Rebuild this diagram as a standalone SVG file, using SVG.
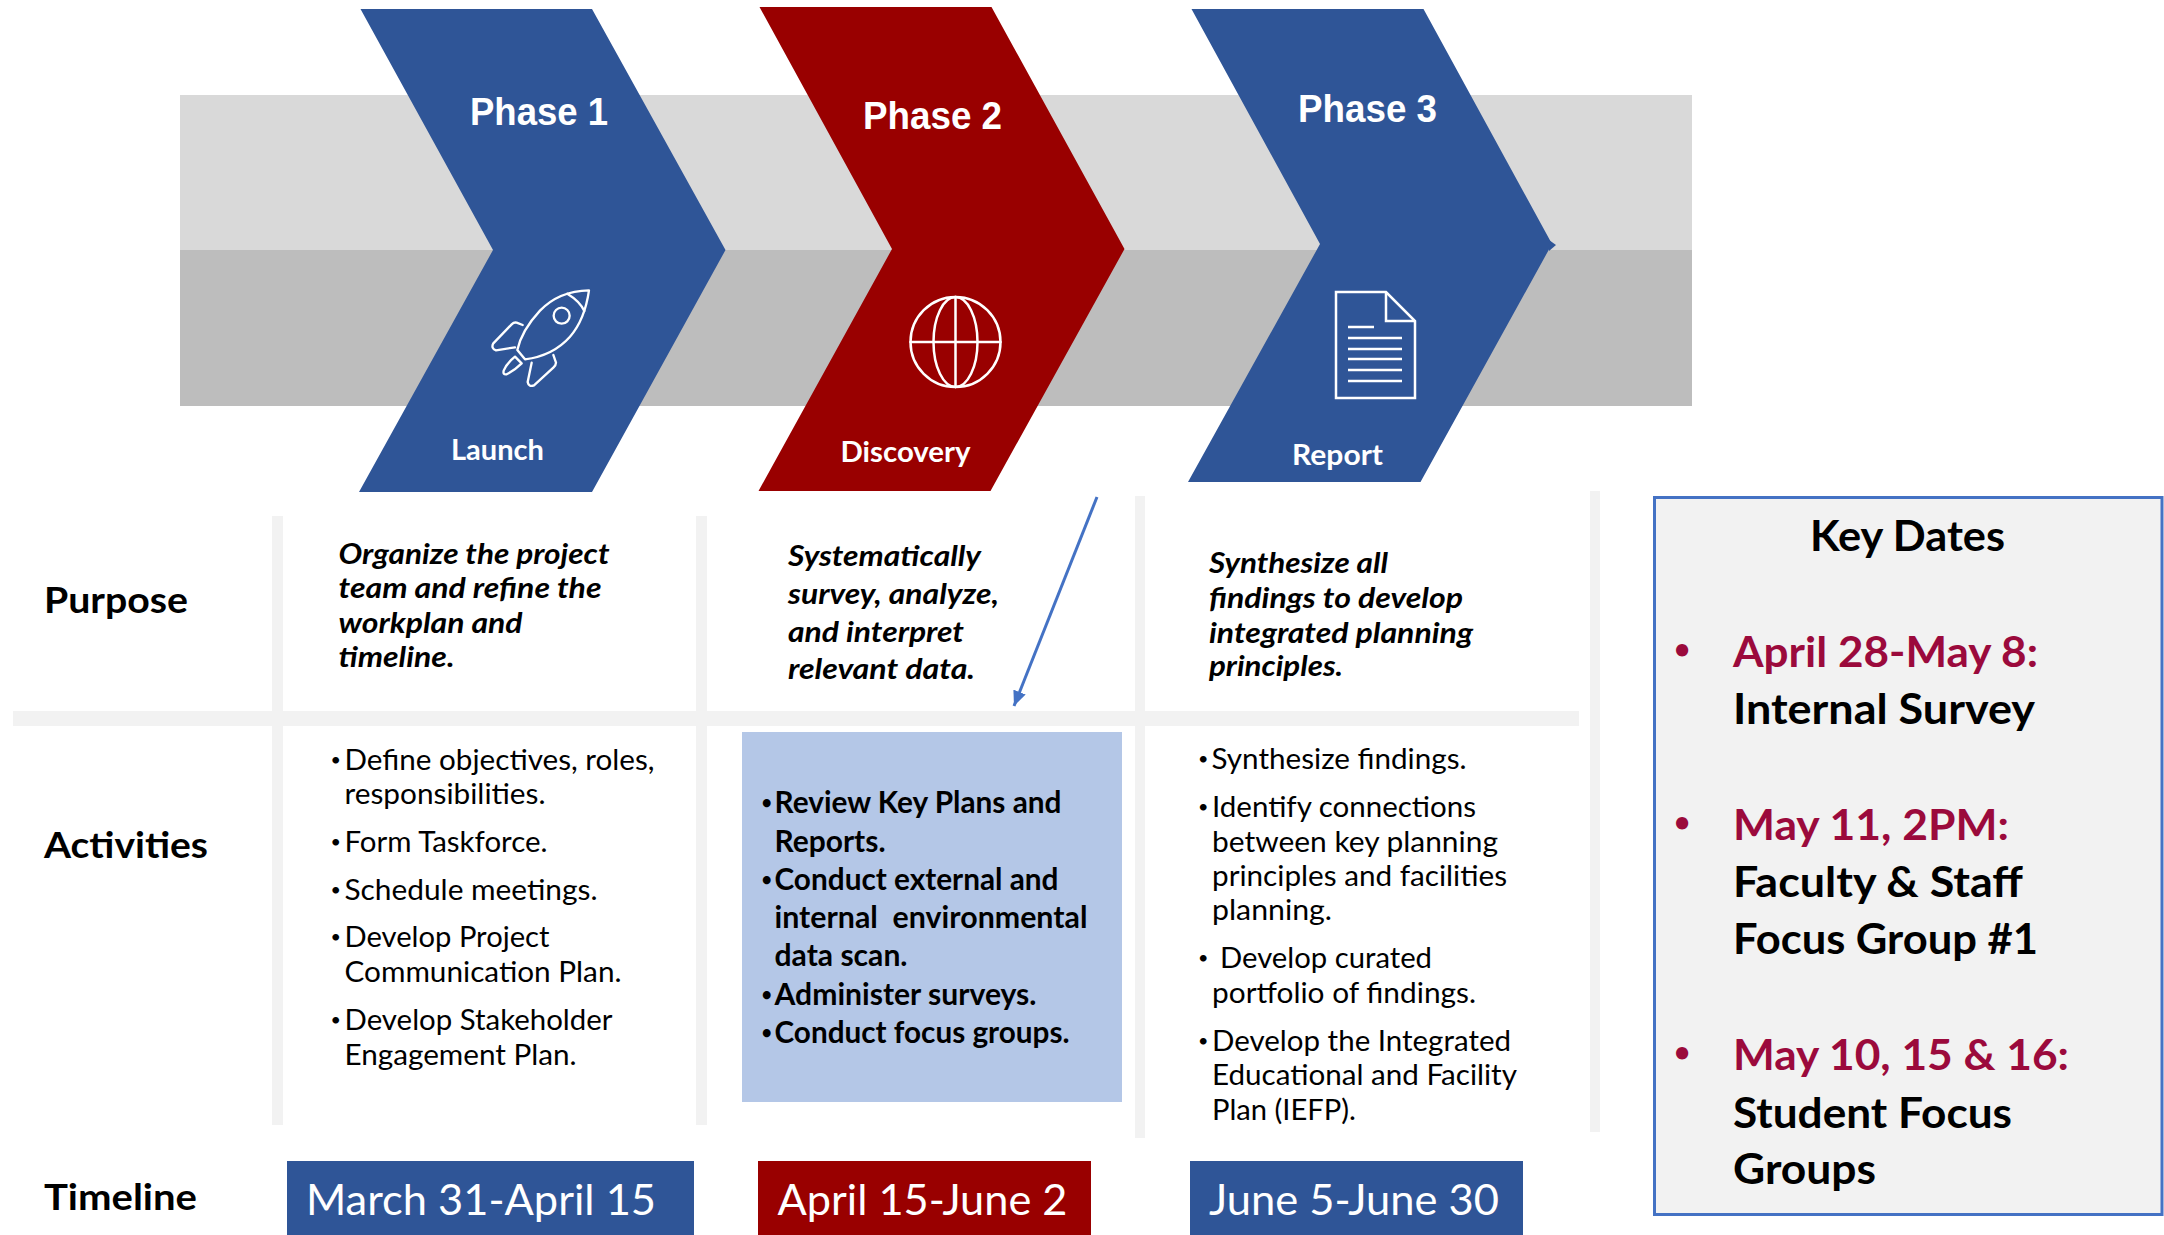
<svg xmlns="http://www.w3.org/2000/svg" width="2164" height="1235" viewBox="0 0 2164 1235">
<style>
text{font-family:Lato,"Liberation Sans",sans-serif;fill:#000}
.ph{font-family:"Liberation Sans",Arial,sans-serif;font-weight:700;font-size:38px;fill:#fff}
.sub{font-weight:700;font-size:28px;fill:#fff}
.row{font-weight:700;font-size:36px}
.pur{font-weight:700;font-style:italic;font-size:29px}
.act{font-size:29px}
.bld{font-weight:700;font-size:29.500px}
.blt{font-size:18px}
.dt{font-size:42px;fill:#fff}
.kd{font-weight:700;font-size:42px}
.kr{font-weight:700;font-size:42px;fill:#9b0a3c}
.krb{font-weight:700;font-size:28px;fill:#9b0a3c}
.ic{fill:none;stroke:#fff;stroke-width:2.5;stroke-linejoin:round;stroke-linecap:round}
.grid{fill:#f2f2f2}
</style>
<defs>
<marker id="ah" markerWidth="5" markerHeight="4.400" refX="5" refY="2.200" orient="auto" markerUnits="strokeWidth"><path d="M0 0L5 2.200L0 4.400Z" fill="#4472c4"/></marker>
</defs>
<rect width="2164" height="1235" fill="#fff"/>
<g id="band">
<rect x="180" y="95" width="1512" height="155" fill="#d9d9d9"/>
<rect x="180" y="250" width="1512" height="156" fill="#bdbdbd"/>
</g>
<g id="phase1">
<path d="M360.500 9H592L725.500 250L592 492H359L493 250Z" fill="#2f5597"/>
<text class="ph" x="470" y="125" textLength="138" lengthAdjust="spacingAndGlyphs">Phase 1</text>
<g transform="translate(460 270) scale(.3333)" style="fill:none;stroke:#fff;stroke-width:7;stroke-linejoin:round;stroke-linecap:round">
<path d="M387 61C340 62 285 75 240 122C200 165 180 205 172 240L195 268C240 262 290 245 330 200C365 160 380 110 387 61Z"/>
<path d="M322 71C345 85 365 105 373 123"/>
<circle cx="305" cy="137" r="24"/>
<path d="M188 165L170 158Q162 156 155 163L100 220Q92 235 108 241L165 232"/>
<path d="M280 255L288 278Q288 285 280 293L222 346Q206 352 203 336L215 278"/>
<path d="M165 260L185 280Q165 300 140 313Q128 315 131 302Q140 280 165 260Z"/>
</g>
<text class="sub" x="451" y="460" textLength="93" lengthAdjust="spacingAndGlyphs">Launch</text>
</g>
<g id="phase2">
<path d="M759.500 7H991.500L1124.500 249L990.500 491H758.500L892 249Z" fill="#990000"/>
<text class="ph" x="863" y="129" textLength="139" lengthAdjust="spacingAndGlyphs">Phase 2</text>
<g class="ic">
<circle cx="955.500" cy="342" r="45"/>
<ellipse cx="955.500" cy="342" rx="22" ry="45"/>
<path d="M955.500 297V387M910.500 342H1000.500"/>
</g>
<text class="sub" x="840.500" y="462" textLength="130" lengthAdjust="spacingAndGlyphs">Discovery</text>
</g>
<g id="phase3">
<path d="M1191.500 9H1423.500L1552 244L1420.500 482H1188L1320 244Z" fill="#2f5597"/>
<path d="M1549 240L1556 245L1549 251Z" fill="#2f5597"/>
<text class="ph" x="1298" y="122" textLength="139" lengthAdjust="spacingAndGlyphs">Phase 3</text>
<g class="ic" style="stroke-linecap:butt;stroke-linejoin:miter">
<path d="M1336 292H1386L1415 321V398H1336Z"/>
<path d="M1386 292V321H1415"/>
<path d="M1348 327H1374M1348 338H1402M1348 349H1402M1348 359H1402M1348 370H1402M1348 381H1402"/>
</g>
<text class="sub" x="1292" y="465" textLength="91" lengthAdjust="spacingAndGlyphs">Report</text>
</g>
<g id="grid">
<rect class="grid" x="13" y="711" width="1566" height="15"/>
<rect class="grid" x="272" y="516" width="11" height="609"/>
<rect class="grid" x="696" y="516" width="11" height="609"/>
<rect class="grid" x="1135" y="496" width="10" height="642"/>
<rect class="grid" x="1590" y="491" width="10" height="641"/>
</g>
<g id="labels">
<text class="row" x="44" y="613" textLength="144" lengthAdjust="spacingAndGlyphs">Purpose</text>
<text class="row" x="44" y="858" textLength="164" lengthAdjust="spacingAndGlyphs">Activities</text>
<text class="row" x="44" y="1210" textLength="153" lengthAdjust="spacingAndGlyphs">Timeline</text>
</g>
<g id="purpose1">
<text class="pur" x="338.500" y="564" textLength="271" lengthAdjust="spacingAndGlyphs">Organize the project</text>
<text class="pur" x="338.500" y="598" textLength="263" lengthAdjust="spacingAndGlyphs">team and refine the</text>
<text class="pur" x="338.500" y="633" textLength="184" lengthAdjust="spacingAndGlyphs">workplan and</text>
<text class="pur" x="338.500" y="667" textLength="116" lengthAdjust="spacingAndGlyphs">timeline.</text>
</g>
<g id="purpose2">
<text class="pur" x="788" y="565.500" textLength="193" lengthAdjust="spacingAndGlyphs">Systematically</text>
<text class="pur" x="788" y="603.500" textLength="211" lengthAdjust="spacingAndGlyphs">survey, analyze,</text>
<text class="pur" x="788" y="641.500" textLength="176" lengthAdjust="spacingAndGlyphs">and interpret</text>
<text class="pur" x="788" y="679" textLength="187" lengthAdjust="spacingAndGlyphs">relevant data.</text>
</g>
<g id="purpose3">
<text class="pur" x="1209" y="573" textLength="179" lengthAdjust="spacingAndGlyphs">Synthesize all</text>
<text class="pur" x="1209" y="607.500" textLength="254" lengthAdjust="spacingAndGlyphs">findings to develop</text>
<text class="pur" x="1209" y="642.500" textLength="264" lengthAdjust="spacingAndGlyphs">integrated planning</text>
<text class="pur" x="1209" y="676" textLength="134" lengthAdjust="spacingAndGlyphs">principles.</text>
</g>
<g id="activities1">
<text class="act blt" x="330.500" y="766">•</text>
<text class="act" x="344.500" y="770" textLength="310" lengthAdjust="spacingAndGlyphs">Define objectives, roles,</text>
<text class="act" x="344.500" y="804" textLength="201" lengthAdjust="spacingAndGlyphs">responsibilities.</text>
<text class="act blt" x="330.500" y="848">•</text>
<text class="act" x="344.500" y="852" textLength="203" lengthAdjust="spacingAndGlyphs">Form Taskforce.</text>
<text class="act blt" x="330.500" y="896">•</text>
<text class="act" x="344.500" y="900" textLength="253" lengthAdjust="spacingAndGlyphs">Schedule meetings.</text>
<text class="act blt" x="330.500" y="943">•</text>
<text class="act" x="344.500" y="947" textLength="205" lengthAdjust="spacingAndGlyphs">Develop Project</text>
<text class="act" x="344.500" y="982" textLength="277" lengthAdjust="spacingAndGlyphs">Communication Plan.</text>
<text class="act blt" x="330.500" y="1026">•</text>
<text class="act" x="344.500" y="1030" textLength="268" lengthAdjust="spacingAndGlyphs">Develop Stakeholder</text>
<text class="act" x="344.500" y="1065" textLength="232" lengthAdjust="spacingAndGlyphs">Engagement Plan.</text>
</g>
<g id="activities2">
<rect x="742" y="732" width="380" height="370" fill="#b4c7e7"/>
<text class="bld blt" x="761.500" y="809">•</text>
<text class="bld" x="774.500" y="813" textLength="287" lengthAdjust="spacingAndGlyphs">Review Key Plans and</text>
<text class="bld" x="774.500" y="851.500" textLength="111" lengthAdjust="spacingAndGlyphs">Reports.</text>
<text class="bld blt" x="761.500" y="886">•</text>
<text class="bld" x="774.500" y="890" textLength="284" lengthAdjust="spacingAndGlyphs">Conduct external and</text>
<text class="bld" x="774.500" y="928" textLength="313" lengthAdjust="spacingAndGlyphs" xml:space="preserve">internal  environmental</text>
<text class="bld" x="774.500" y="966" textLength="133" lengthAdjust="spacingAndGlyphs">data scan.</text>
<text class="bld blt" x="761.500" y="1001">•</text>
<text class="bld" x="774.500" y="1005" textLength="262" lengthAdjust="spacingAndGlyphs">Administer surveys.</text>
<text class="bld blt" x="761.500" y="1039">•</text>
<text class="bld" x="774.500" y="1043" textLength="295" lengthAdjust="spacingAndGlyphs">Conduct focus groups.</text>
</g>
<g id="activities3">
<text class="act blt" x="1198" y="765">•</text>
<text class="act" x="1211.500" y="769" textLength="255" lengthAdjust="spacingAndGlyphs">Synthesize findings.</text>
<text class="act blt" x="1198" y="813">•</text>
<text class="act" x="1212" y="817" textLength="264" lengthAdjust="spacingAndGlyphs">Identify connections</text>
<text class="act" x="1212" y="852" textLength="286" lengthAdjust="spacingAndGlyphs">between key planning</text>
<text class="act" x="1212" y="886" textLength="295" lengthAdjust="spacingAndGlyphs">principles and facilities</text>
<text class="act" x="1212" y="920" textLength="120" lengthAdjust="spacingAndGlyphs">planning.</text>
<text class="act blt" x="1198" y="964">•</text>
<text class="act" x="1220" y="968" textLength="212" lengthAdjust="spacingAndGlyphs">Develop curated</text>
<text class="act" x="1212" y="1003" textLength="264" lengthAdjust="spacingAndGlyphs">portfolio of findings.</text>
<text class="act blt" x="1198" y="1047">•</text>
<text class="act" x="1212" y="1051" textLength="299" lengthAdjust="spacingAndGlyphs">Develop the Integrated</text>
<text class="act" x="1212" y="1085" textLength="305" lengthAdjust="spacingAndGlyphs">Educational and Facility</text>
<text class="act" x="1212" y="1120" textLength="144" lengthAdjust="spacingAndGlyphs">Plan (IEFP).</text>
</g>
<g id="timeline1">
<rect x="287" y="1161" width="407" height="74" fill="#2f5597"/>
<text class="dt" x="306" y="1215" textLength="350" lengthAdjust="spacingAndGlyphs">March 31-April 15</text>
</g>
<g id="timeline2">
<rect x="758" y="1161" width="333" height="74" fill="#990000"/>
<text class="dt" x="777.500" y="1215" textLength="290" lengthAdjust="spacingAndGlyphs">April 15-June 2</text>
</g>
<g id="timeline3">
<rect x="1190" y="1161" width="333" height="74" fill="#2f5597"/>
<text class="dt" x="1209" y="1215" textLength="290" lengthAdjust="spacingAndGlyphs">June 5-June 30</text>
</g>
<g id="keydates">
<rect x="1654.500" y="497.500" width="507.500" height="717" fill="#f2f2f2" stroke="#4472c4" stroke-width="3"/>
<text class="kd" x="1810" y="551" textLength="195" lengthAdjust="spacingAndGlyphs">Key Dates</text>
<text class="krb" x="1674" y="659">•</text>
<text class="kr" x="1733" y="667" textLength="305" lengthAdjust="spacingAndGlyphs">April 28-May 8:</text>
<text class="kd" x="1733" y="724" textLength="302" lengthAdjust="spacingAndGlyphs">Internal Survey</text>
<text class="krb" x="1674" y="832">•</text>
<text class="kr" x="1733" y="840" textLength="276" lengthAdjust="spacingAndGlyphs">May 11, 2PM:</text>
<text class="kd" x="1733" y="897" textLength="290" lengthAdjust="spacingAndGlyphs">Faculty &amp; Staff</text>
<text class="kd" x="1733" y="954" textLength="305" lengthAdjust="spacingAndGlyphs">Focus Group #1</text>
<text class="krb" x="1674" y="1062">•</text>
<text class="kr" x="1733" y="1070" textLength="336" lengthAdjust="spacingAndGlyphs">May 10, 15 &amp; 16:</text>
<text class="kd" x="1733" y="1128" textLength="279" lengthAdjust="spacingAndGlyphs">Student Focus</text>
<text class="kd" x="1733" y="1184" textLength="143" lengthAdjust="spacingAndGlyphs">Groups</text>
</g>
<g id="connectors">
<path d="M1097 497L1014 706" fill="none" stroke="#4472c4" stroke-width="3" marker-end="url(#ah)"/>
</g>
</svg>
